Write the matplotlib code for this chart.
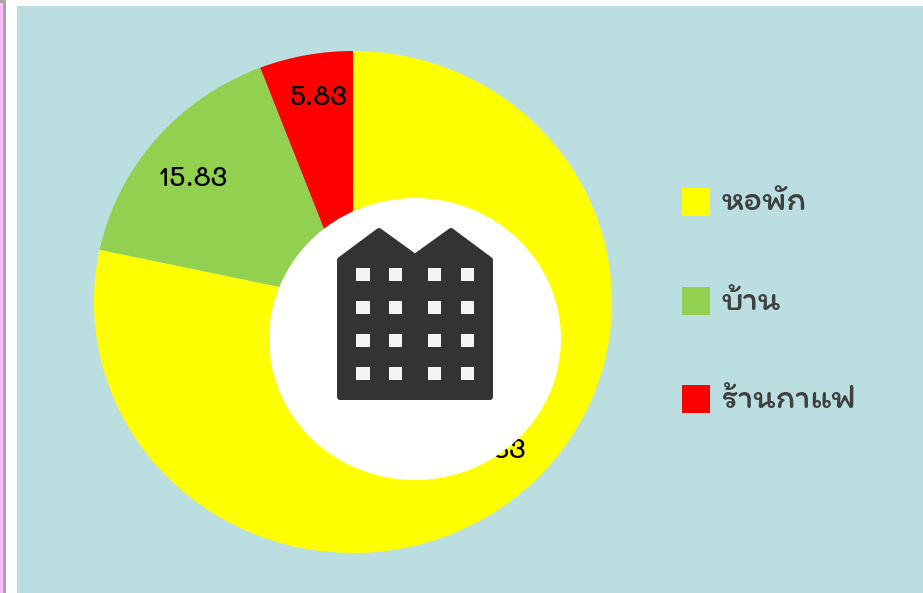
import matplotlib
matplotlib.use('Agg')
import matplotlib.pyplot as plt
import numpy as np
from matplotlib.patches import Ellipse, Polygon, Rectangle

W, H = 923, 593

# data
categories = ['หอพัก', 'บ้าน', 'ร้านกาแฟ']
values = [78.33, 15.83, 5.83]
colors = ['#FFFF00', '#92D050', '#FF0000']
label_shift = [(6, 8), (-3, -7), (3, 7)]  # px, nudges from the wedge middle

NUM_FONT = ['Mali', 'DejaVu Sans']
LEG_FONT = ['Itim', 'DejaVu Sans']


def px_axes(x0, y0, x1, y1, **kw):
    # axes placed by pixel box, y measured from the top
    return fig.add_axes([x0/W, 1-y1/H, (x1-x0)/W, (y1-y0)/H], **kw)


fig = plt.figure(figsize=(W/100, H/100), dpi=100, facecolor='white')

# page furniture behind the chart
bg = px_axes(0, 0, W, H, zorder=0)
bg.set_xlim(0, W)
bg.set_ylim(H, 0)
bg.axis('off')
bg.add_patch(Rectangle((0, 0), 6, H, fc='#A6A6A6', ec='none'))
bg.add_patch(Rectangle((0, 3), 3, H, fc='#FFBDF5', ec='none'))
bg.add_patch(Rectangle((17, 6), W-17, H-6, fc='#BBDFE1', ec='none'))

# pie is stretched a little wider than tall, same as the picture
ax = px_axes(94, 51, 612, 553, zorder=1)
ax.patch.set_alpha(0)
wedges, _ = ax.pie(values, colors=colors, startangle=90, counterclock=False,
                   wedgeprops={'linewidth': 0})
ax.set_aspect('auto')
ax.set_xlim(-1, 1)
ax.set_ylim(-1, 1)

for w, v, (dx, dy) in zip(wedges, values, label_shift):
    mid = np.deg2rad((w.theta1 + w.theta2)/2)
    ax.annotate('%.2f' % v, (0.8*np.cos(mid), 0.8*np.sin(mid)),
                xytext=(dx*0.72, dy*0.72), textcoords='offset points',
                ha='center', va='center', fontsize=20, color='black',
                fontweight='medium', family=NUM_FONT)

# top layer: hole (off centre, it hides most of the big label), icon, legend
top = px_axes(0, 0, W, H, zorder=2)
top.patch.set_alpha(0)
top.set_xlim(0, W)
top.set_ylim(H, 0)
top.axis('off')
top.add_patch(Ellipse((415, 339), 292, 282, fc='white', ec='none'))

DARK = '#333333'
outline = [(340, 397), (340, 260), (379, 231), (415, 257), (451, 231),
           (490, 260), (490, 397)]
top.add_patch(Polygon(outline, closed=True, fc=DARK, ec=DARK, lw=4.3,
                      joinstyle='round'))
for wx in [356.3, 389, 428, 461]:
    for wy in [268, 301, 334, 367]:
        top.add_patch(Rectangle((wx, wy), 13.4, 13.4, fc='#F4F4F4', ec='none'))

for name, col, y in zip(categories, colors, [188, 287, 385]):
    top.add_patch(Rectangle((682, y), 28, 28, fc=col, ec='none'))
    top.text(722, y+15, name, fontsize=25.5, color='#404040', va='center',
             ha='left', family=LEG_FONT)

fig.savefig('out.png', dpi=100)
